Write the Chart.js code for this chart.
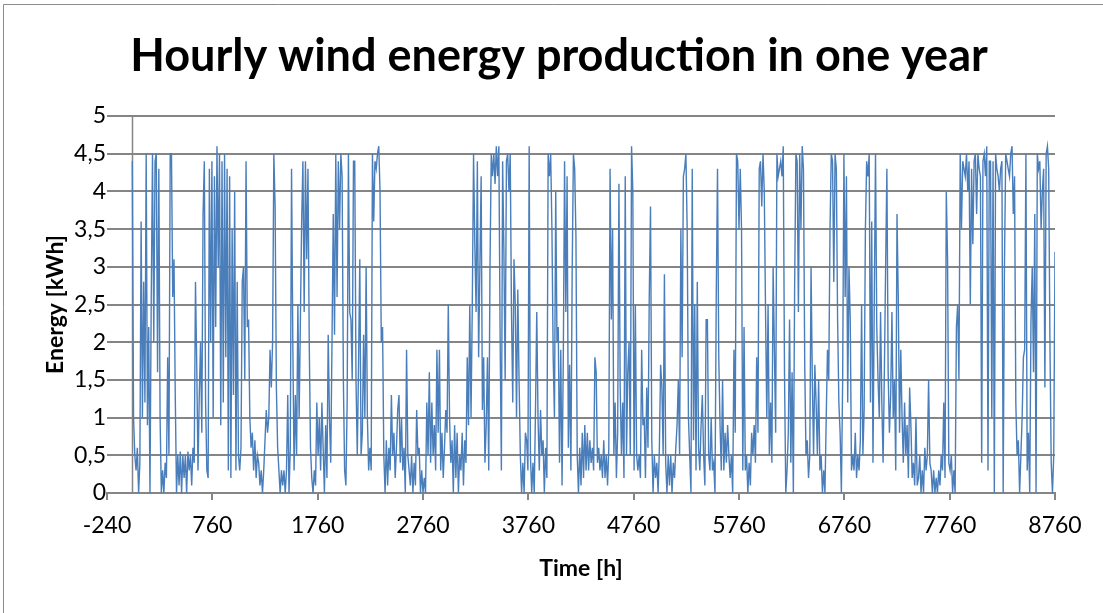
<!DOCTYPE html>
<html>
<head>
<meta charset="utf-8">
<script src="https://cdn.jsdelivr.net/npm/chart.js@4/dist/chart.umd.min.js"></script>
<style>
  html, body { margin: 0; padding: 0; background: #fff; }
  canvas { display: block; }
</style>
</head>
<body>
<canvas id="graphwind" width="1103" height="613"></canvas>
<script>
//---------dados: energia a cada 12 h, blocos de 60 valores (30 dias)
const stepHours = 12;

const block1 = [4.4,1.0,0.5,0.3,0.6,0,0.4,3.6,1.0,2.8, 1.2,4.5,0.9,2.2,0,2.6,4.5,2.0,4.4,4.5,
  1.6,4.3,1.0,0,0.3,0,0.4,0.2,1.8,0.5, 4.5,4.5,2.6,3.1,1.3,0,0.5,0.1,0.55,0,
  0.5,0.2,0.5,0,0.55,0.3,0.5,0.1,0.6,0.4, 2.8,1.7,0.3,1.3,2.0,0.8,3.7,4.4,1.2,0.3];
const block2 = [0.2,4.3,2.0,4.4,1.0,4.2,2.2,4.6,3.0,4.5, 0.9,4.4,1.2,4.5,1.8,4.3,0.3,4.2,0.2,3.5,
  1.3,4.0,0.3,2.8,0.5,0.3,0.6,2.8,3.0,1.5, 4.4,2.2,2.3,1.0,0.6,0.8,0.3,0.7,0.2,0.5,
  0.4,0.1,0.3,0,0.3,0.7,1.1,0.8,1.0,1.9, 1.4,2.0,4.5,3.8,1.4,0.6,0.3,0,0.3,0.1];
const block3 = [0.3,0,0.3,1.3,0,0.6,4.3,2.0,0.3,1.3, 0.5,2.5,1.0,2.3,3.6,4.4,2.4,4.4,3.1,4.3,
  2.0,0.6,0.2,0,0.3,0.1,1.2,0.5,1.0,0.3, 1.2,0.6,0,0.9,0.2,2.1,1.0,0.4,2.0,3.7,
  2.1,4.5,2.6,4.4,3.5,4.5,4.2,1.5,0.3,0.1, 1.2,4.5,2.4,2.3,1.5,4.4,4.4,1.5,0.5,1.7];
const block4 = [3.1,0.5,0.8,2.1,1.0,3.0,1.0,0.3,0.6,0.3, 4.5,3.6,4.4,4.3,4.5,4.6,4.0,2.0,2.2,0.5,
  0,0.7,0.1,0.6,0.3,1.3,0.5,0.8,0.2,0.6, 1.1,1.3,0.4,1.0,0.3,0.6,0,1.9,0.5,0.3,
  0.1,0.5,0,0.4,0.1,1.1,0.5,0.6,0,0.3, 0,0.2,0,1.2,0.5,1.6,0.4,1.2,0.5,0.9];
const block5 = [0.3,1.9,0.8,1.9,0.3,0.8,0.2,0.6,1.1,0.8, 2.5,1.0,0.4,0.7,0,0.9,0.2,0.8,0,0.5,
  0.3,0.8,0.1,0.7,0.4,1.8,0.9,2.5,1.0,2.5, 4.5,3.3,2.4,4.4,1.8,3.0,4.2,1.1,1.8,0.4,
  0.9,1.8,0.3,3.0,4.5,4.2,4.5,4.1,4.6,4.2, 4.6,2.1,0.3,4.4,3.2,1.5,4.4,4.5,4.0,4.5];
const block6 = [2.4,1.2,3.1,2.5,1.0,2.7,1.5,0.5,0,0.4, 0,0.8,0.7,0.3,4.6,0.5,0,0.4,0,1.1,
  2.4,1.0,0.3,1.1,0.5,0.7,0,0.6,0.2,4.5, 4.2,4.5,3.5,1.8,1.0,4.0,2.0,2.2,0.4,1.9,
  0.1,1.8,4.4,2.4,4.2,0.6,1.7,0.3,2.9,4.5, 4.3,3.4,0.5,0,0.6,0.1,0.8,0.2,0.9,0.3];
const block7 = [0.8,0.3,0.7,0.4,0.6,0.3,1.8,1.6,0.4,0.6, 0.3,0.5,0.2,0.7,0.2,0.5,0.1,0.6,4.3,2.3,
  3.5,0.5,1.2,0.2,0.8,4.1,1.4,0.5,1.2,0.2, 4.2,0.5,1.6,2.0,0.5,4.6,4.0,0.3,2.5,0.5,
  0.3,0.5,0.2,1.9,0.9,1.0,0.2,1.4,0.6,2.6, 3.8,0.7,0,0.5,0.2,0.4,0,0.6,1.7,1.4];
const block8 = [0.5,2.9,0.4,0,0.5,0.1,0.5,0,0.4,0.2, 0.6,0.9,1.5,0.5,3.5,1.8,4.2,4.3,4.5,3.5,
  1.0,0.5,0,4.3,0.7,2.5,0.3,2.8,0.6,0.3, 0.9,1.3,0.5,0.1,2.3,2.3,0.5,0.3,1.0,0.3,
  0.4,0,2.6,4.3,1.8,0.9,0.3,1.5,0.3,0.8, 0.4,0.9,0.5,0.2,0.5,0,1.9,0.8,4.5,4.4];
const block9 = [3.5,4.3,3.5,0.3,2.2,0.3,0.5,0,0.4,0.1, 0.8,0.5,0.9,0.4,1.8,0.8,4.3,4.4,3.8,4.5,
  4.0,2.4,1.0,2.5,0.5,1.2,0.4,3.0,1.9,0.8, 4.5,4.2,4.3,4.4,4.2,4.6,1.6,0,0.3,0.8,
  2.3,0.4,1.6,0,2.7,4.5,4.4,2.4,4.5,3.5, 4.6,4.3,1.7,0.5,0.7,0.2,0.5,3.0,1.5,0.5];
const block10 = [1.7,1.2,0.5,1.5,0.3,0.5,0,0.3,0,1.0, 1.9,1.5,3.5,4.5,4.4,2.8,4.5,4.3,2.3,1.2,
  0.8,0,1.5,4.5,2.6,4.2,1.2,3.0,2.3,0.3, 0.5,0.3,0.8,0.2,0.5,0.3,0.7,2.5,0.5,1.1,
  3.5,4.4,4.2,4.5,1.2,3.6,0.4,2.5,4.5,2.2, 1.5,1.0,2.4,1.2,0.4,1.6,3.0,4.3,1.6,0.8];
const block11 = [1.3,2.4,1.0,1.5,0.3,3.7,2.6,0.8,1.9,1.0, 0.4,1.2,0.5,0.9,0.2,1.4,0.9,0.2,0.4,0.1,
  1.0,0.1,0.2,0.5,0,0.3,0,0.6,0.3,0.5, 1.5,0.4,0.3,0,0.3,0,0.2,0,0.3,0.1,
  0.5,0.3,1.2,0.2,4.0,3.1,0.4,0.3,0.5,0, 0.3,0,2.2,2.5,1.5,4.5,3.5,4.4,4.3,4.2];
const block12 = [4.5,4.0,4.4,2.5,4.3,3.3,4.4,4.5,3.7,4.5, 4.3,4.2,0.4,4.4,4.5,4.2,4.6,0.3,4.4,4.4,
  1.0,4.4,0,4.5,4.3,4.2,4.0,4.3,4.4,0, 3.0,4.5,4.4,4.3,4.2,4.5,4.6,3.7,4.2,1.2,
  0.5,0.7,0,0.5,1.0,1.8,1.9,4.5,0.3,0.8, 0,2.3,3.0,1.6,3.7,0,4.5,4.3,4.4,3.5,
  4.0,4.3,1.4,4.5,4.6,4.3,2.0,0.4,0,0.5, 3.2];

const xTicks = [-240, 760, 1760, 2760, 3760, 4760, 5760, 6760, 7760, 8760];
const yTicks = [0, 0.5, 1, 1.5, 2, 2.5, 3, 3.5, 4, 4.5, 5];

const energy = [].concat(block1, block2, block3, block4, block5, block6,
  block7, block8, block9, block10, block11, block12);
const points = energy.map(function (v, i) {
  return { x: i * stepHours, y: v };
});

const fam = 'Lato, "Open Sans", sans-serif';
const gray = '#858585';

//---------moldura, título e eixo vertical em x = 0
const extras = {
  id: 'extras',
  beforeDraw(chart) {
    const c = chart.ctx;
    c.save();
    c.fillStyle = '#fff';
    c.fillRect(0, 0, chart.width, chart.height);
    c.strokeStyle = '#8c8c8c';
    c.lineWidth = 1;
    c.beginPath();
    c.moveTo(3.5, chart.height);
    c.lineTo(3.5, 4.5);
    c.lineTo(chart.width, 4.5);
    c.stroke();
    c.fillStyle = '#000';
    c.font = 'bold 45px ' + fam;
    c.textAlign = 'center';
    c.textBaseline = 'alphabetic';
    c.fillText('Hourly wind energy production in one year', 559, 71);
    c.restore();
  },
  beforeDatasetsDraw(chart) {
    const c = chart.ctx;
    const x0 = Math.round(chart.scales.x.getPixelForValue(0)) + 0.5;
    c.save();
    c.strokeStyle = gray;
    c.lineWidth = 1.5;
    c.beginPath();
    c.moveTo(x0, chart.chartArea.top);
    c.lineTo(x0, chart.chartArea.bottom);
    c.stroke();
    c.restore();
  }
};

let ctx = document.getElementById('graphwind');

new Chart(ctx, {
  type: 'line',
  data: {
    datasets: [{
      label: 'Energy',
      data: points,
      borderColor: '#4a7ebb',
      borderWidth: 1.4,
      pointRadius: 0,
      tension: 0,
      fill: false
    }]
  },
  options: {
    responsive: false,
    animation: false,
    layout: {
      padding: { left: 0, right: 48, top: 116, bottom: 0 }
    },
    plugins: {
      legend: { display: false },
      tooltip: { enabled: false }
    },
    scales: {
      x: {
        type: 'linear',
        min: -240,
        max: 8760,
        afterBuildTicks: function (scale) {
          scale.ticks = xTicks.map(function (v) { return { value: v }; });
        },
        afterFit: function (scale) { scale.height = 120; },
        grid: { drawOnChartArea: false, drawTicks: true, tickLength: 7, color: gray, lineWidth: 2 },
        border: { color: gray, width: 2 },
        ticks: {
          autoSkip: false,
          maxRotation: 0,
          padding: 12,
          color: '#000',
          font: { family: fam, size: 23 },
          callback: function (v) { return String(v); }
        },
        title: {
          display: true,
          text: 'Time [h]',
          color: '#000',
          font: { family: fam, size: 23, weight: 'bold' },
          padding: { top: 0, bottom: 31 }
        }
      },
      y: {
        min: 0,
        max: 5,
        afterBuildTicks: function (scale) {
          scale.ticks = yTicks.map(function (v) { return { value: v }; });
        },
        afterFit: function (scale) { scale.width = 107; },
        grid: { color: gray, lineWidth: 2, drawTicks: false },
        border: { display: false },
        ticks: {
          padding: 1,
          color: '#000',
          font: { family: fam, size: 23 },
          callback: function (v) { return String(v).replace('.', ','); }
        },
        title: {
          display: true,
          text: 'Energy [kWh]',
          color: '#000',
          font: { family: fam, size: 23, weight: 'bold' },
          padding: { top: 42, bottom: 0 }
        }
      }
    }
  },
  plugins: [extras]
});
</script>
</body>
</html>
